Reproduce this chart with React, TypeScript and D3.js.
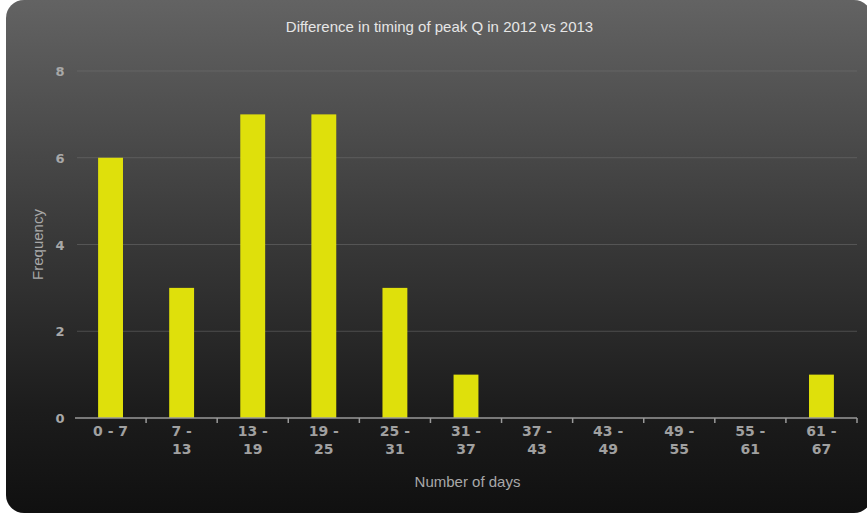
import React from "react";
import * as d3 from "d3";

const categories = ["0 - 7", "7 - 13", "13 - 19", "19 - 25", "25 - 31", "31 - 37", "37 - 43", "43 - 49", "49 - 55", "55 - 61", "61 - 67"];
const frequencies = [6, 3, 7, 7, 3, 1, 0, 0, 0, 0, 1];
const yTicks = [0, 2, 4, 6, 8];

const W = 867;
const H = 516;
const margin = { left: 75, right: 10, top: 71, bottom: 98 };

function splitLabel(label: string): string[] {
  const [a, b] = label.split(" - ");
  // short ranges fit on one line, longer ones wrap after the dash
  return label.length <= 5 ? [label] : [`${a} -`, b];
}

export default function App() {
  const x = d3
    .scaleBand<string>()
    .domain(categories)
    .range([margin.left, W - margin.right])
    .paddingInner(0)
    .paddingOuter(0);
  const y = d3.scaleLinear().domain([0, 8]).range([H - margin.bottom, margin.top]);
  const barW = x.bandwidth() * 0.35;
  const x0 = margin.left;
  const x1 = W - margin.right;
  const axisY = y(0);

  return (
    <svg width={W} height={H} style={{ position: "absolute", left: 0, top: 0 }}>
      <defs>
        <linearGradient id="bg" x1="0" y1="0" x2="0" y2="1">
          <stop offset="0%" stopColor="#636363" />
          <stop offset="45%" stopColor="#3a3a3a" />
          <stop offset="80%" stopColor="#1c1c1c" />
          <stop offset="100%" stopColor="#101010" />
        </linearGradient>
      </defs>
      <rect x={0} y={0} width={W} height={H} fill="#ffffff" />
      <rect x={6} y={0} width={866} height={513} rx={18} ry={18} fill="url(#bg)" />

      <text x={W / 2 + 6} y={32} textAnchor="middle" fill="#e6e6e6" fontFamily="Liberation Sans, Arial, sans-serif" fontSize={15}>
        Difference in timing of peak Q in 2012 vs 2013
      </text>

      {yTicks.map((t) => (
        <g key={t}>
          {t > 0 && <line x1={x0 + 2} x2={x1} y1={y(t)} y2={y(t)} stroke="#7a7a7a" strokeOpacity={0.45} strokeWidth={1} />}
          <text x={60} y={y(t) + 5} textAnchor="middle" fill="#a8a8a8" fontFamily="DejaVu Sans, Verdana, sans-serif" fontWeight="bold" fontSize={13}>
            {t}
          </text>
        </g>
      ))}

      {categories.map((c, i) => (
        <rect
          key={c}
          x={(x(c) as number) + x.bandwidth() / 2 - barW / 2}
          y={y(frequencies[i])}
          width={barW}
          height={axisY - y(frequencies[i])}
          fill="#dfe00b"
        />
      ))}

      <line x1={x0} x2={x1} y1={axisY} y2={axisY} stroke="#9a9a9a" strokeWidth={1.5} />
      {categories.map((c) => {
        const bx = (x(c) as number) + x.bandwidth();
        return <line key={"t" + c} x1={bx} x2={bx} y1={axisY} y2={axisY + 5} stroke="#9a9a9a" strokeWidth={1.5} />;
      })}

      {categories.map((c) => {
        const cx = (x(c) as number) + x.bandwidth() / 2;
        const lines = splitLabel(c);
        return (
          <text key={"l" + c} x={cx} textAnchor="middle" fill="#a0a0a0" fontFamily="DejaVu Sans, Verdana, sans-serif" fontWeight="bold" fontSize={14}>
            {lines.map((ln, k) => (
              <tspan key={k} x={cx} y={axisY + 18 + k * 18}>
                {ln}
              </tspan>
            ))}
          </text>
        );
      })}

      <text x={W / 2 + 34} y={487} textAnchor="middle" fill="#a8a8a8" fontFamily="Liberation Sans, Arial, sans-serif" fontSize={15}>
        Number of days
      </text>
      <text
        transform={`translate(43, ${(y(0) + y(8)) / 2}) rotate(-90)`}
        textAnchor="middle"
        fill="#a8a8a8"
        fontFamily="Liberation Sans, Arial, sans-serif"
        fontSize={15}
      >
        Frequency
      </text>
    </svg>
  );
}
